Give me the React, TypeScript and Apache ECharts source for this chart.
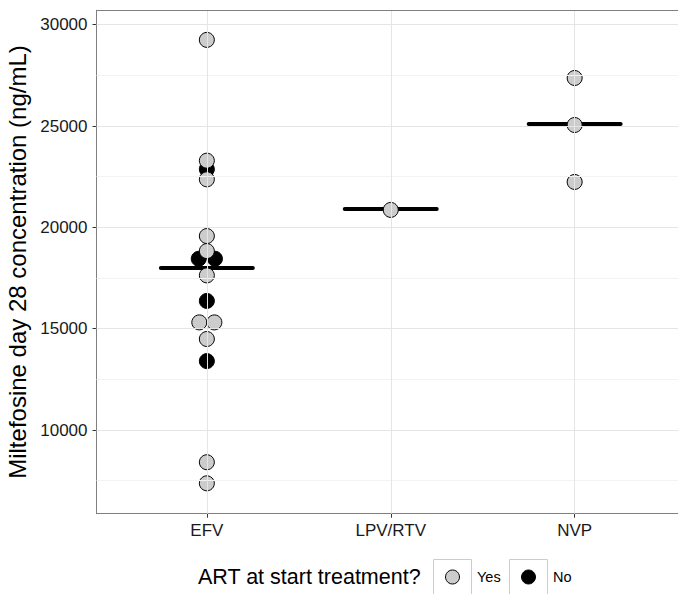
import React, { useEffect, useRef } from "react";
import * as echarts from "echarts";

const categories = ["EFV", "LPV/RTV", "NVP"];
// ART at start treatment? = Yes
const yesCategory = ["EFV", "EFV", "EFV", "EFV", "EFV", "EFV", "EFV", "EFV", "EFV", "EFV", "EFV", "LPV/RTV", "NVP", "NVP", "NVP"];
const yesValues = [29250, 23290, 22370, 19570, 18830, 17630, 15310, 15310, 14490, 8410, 7370, 20860, 27370, 25050, 22240];
const yesDodge = [0, 0, 0, 0, 0, 0, -0.041, 0.041, 0, 0, 0, 0, 0, 0, 0];
// ART at start treatment? = No
const noCategory = ["EFV", "EFV", "EFV", "EFV", "EFV"];
const noValues = [22870, 18450, 18450, 16370, 13400];
const noDodge = [0, -0.044, 0.044, 0, 0];
// medians (crossbars)
const medianValues = [18000, 20900, 25100];

const yTicks = [10000, 15000, 20000, 25000, 30000];
const yMinorTicks = [7500, 12500, 17500, 22500, 27500];
const yMin = 5870;
const yMax = 30710;

const legendTitle = "ART at start treatment?";
const legendNames = ["Yes", "No"];
const legendFills = ["#cccccc", "#000000"];

const FONT = "'Liberation Sans', Arial, Helvetica, sans-serif";

function catX(c: string) {
  return categories.indexOf(c) + 1;
}

export default function App() {
  const ref = useRef<HTMLDivElement>(null);
  useEffect(() => {
    if (!ref.current) return;
    const chart = echarts.init(ref.current, null, { renderer: "svg" });

    const yesData = yesValues.map((v, i) => [catX(yesCategory[i]) + yesDodge[i], v]);
    const noData = noValues.map((v, i) => [catX(noCategory[i]) + noDodge[i], v]);
    const medData = medianValues.map((v, i) => [i + 1, v]);

    const gridLines: any[] = [];
    yMinorTicks.forEach((v) =>
      gridLines.push({ yAxis: v, lineStyle: { color: "#f3f3f3", width: 1, type: "solid" } })
    );
    yTicks.forEach((v) =>
      gridLines.push({ yAxis: v, lineStyle: { color: "#e5e5e5", width: 1, type: "solid" } })
    );
    categories.forEach((c, i) =>
      gridLines.push({ xAxis: i + 1, lineStyle: { color: "#e5e5e5", width: 1, type: "solid" } })
    );
    // panel top border
    gridLines.push({ yAxis: yMax, lineStyle: { color: "#7f7f7f", width: 1, type: "solid" } });

    // legend drawn as keys with boxes
    const keyLeft = [433, 509];
    const keyW = 38;
    const legendCY = 577;
    const legendGraphics: any[] = [
      {
        type: "text",
        right: 678 - 421,
        y: legendCY,
        style: {
          text: legendTitle,
          fontSize: 21.5,
          fill: "#000",
          fontFamily: FONT,
          verticalAlign: "middle",
        },
      },
    ];
    legendNames.forEach((n, i) => {
      legendGraphics.push({
        type: "rect",
        shape: { x: keyLeft[i] + 0.5, y: 559.5, width: keyW, height: 60 },
        style: { fill: "#ffffff", stroke: "#cccccc", lineWidth: 1 },
      });
      legendGraphics.push({
        type: "circle",
        shape: { cx: keyLeft[i] + keyW / 2 + 0.5, cy: legendCY, r: 7 },
        style: { fill: legendFills[i], stroke: "#000", lineWidth: 1 },
      });
      legendGraphics.push({
        type: "text",
        x: keyLeft[i] + keyW + 6,
        y: legendCY,
        style: {
          text: n,
          fontSize: 14.5,
          fill: "#000",
          fontFamily: FONT,
          verticalAlign: "middle",
        },
      });
    });

    const option: any = {
      animation: false,
      backgroundColor: "#ffffff",
      textStyle: { fontFamily: FONT },
      grid: {
        left: 96.5,
        top: 10.3,
        right: -7,
        bottom: 594 - 513.7,
        outerBoundsMode: "none",
        containLabel: false,
        show: false,
      },
      xAxis: {
        type: "value",
        min: 0.4,
        max: 3.6,
        axisLine: { show: true, onZero: false, lineStyle: { color: "#7f7f7f", width: 1 } },
        splitLine: { show: false },
        axisTick: {
          show: true,
          length: 4,
          lineStyle: { color: "#333333", width: 1 },
          customValues: [1, 2, 3],
        },
        axisLabel: {
          customValues: [1, 2, 3],
          formatter: (v: number) => categories[Math.round(v) - 1] ?? "",
          color: "#1a1a1a",
          fontSize: 17,
          fontFamily: FONT,
          margin: 8,
        },
      },
      yAxis: {
        type: "value",
        min: yMin,
        max: yMax,
        name: "Miltefosine day 28 concentration (ng/mL)",
        nameLocation: "middle",
        nameGap: 66,
        nameTextStyle: { fontSize: 24, color: "#000", fontFamily: FONT },
        axisLine: { show: true, onZero: false, lineStyle: { color: "#7f7f7f", width: 1 } },
        splitLine: { show: false },
        axisTick: {
          show: true,
          length: 4,
          lineStyle: { color: "#333333", width: 1 },
          customValues: yTicks,
        },
        axisLabel: {
          customValues: yTicks,
          formatter: (v: number) => String(v),
          color: "#1a1a1a",
          fontSize: 17,
          fontFamily: FONT,
          margin: 9,
        },
      },
      graphic: legendGraphics,
      series: [
        {
          type: "line",
          data: [],
          silent: true,
          markLine: {
            silent: true,
            symbol: "none",
            label: { show: false },
            animation: false,
            data: gridLines,
          },
          z: 0,
        },
        {
          type: "custom",
          data: medData,
          z: 2,
          silent: true,
          renderItem: (params: any, api: any) => {
            const x = api.value(0);
            const y = api.value(1);
            const p1 = api.coord([x - 0.25, y]);
            const p2 = api.coord([x + 0.25, y]);
            return {
              type: "line",
              shape: { x1: p1[0], y1: p1[1], x2: p2[0], y2: p2[1] },
              style: { stroke: "#000", lineWidth: 4, lineCap: "round" },
            };
          },
        },
        {
          name: "No",
          type: "scatter",
          data: noData,
          symbol: "circle",
          symbolSize: 15,
          z: 3,
          itemStyle: { color: "#000000", borderColor: "#000000", borderWidth: 1, opacity: 1 },
        },
        {
          name: "Yes",
          type: "scatter",
          data: yesData,
          symbol: "circle",
          symbolSize: 15,
          z: 4,
          itemStyle: { color: "#cccccc", borderColor: "#000000", borderWidth: 1, opacity: 1 },
        },
      ],
    };
    chart.setOption(option);
    return () => chart.dispose();
  }, []);
  return (
    <div
      ref={ref}
      style={{
        position: "fixed",
        left: 0,
        top: 0,
        width: 678,
        height: 594,
        overflow: "hidden",
        background: "#fff",
      }}
    />
  );
}
